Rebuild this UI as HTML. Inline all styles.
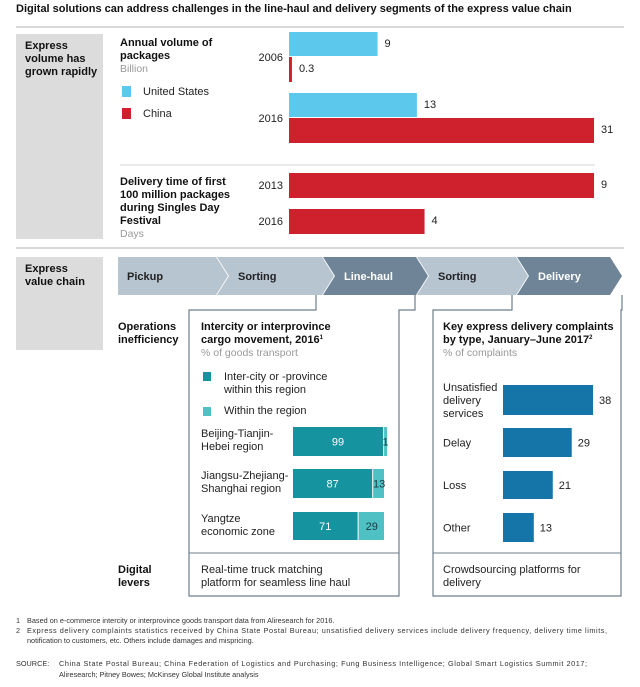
<!DOCTYPE html>
<html><head><meta charset="utf-8"><style>
html,body{margin:0;padding:0;background:#fff;}
svg{display:block;font-family:"Liberation Sans",Arial,sans-serif;}
</style></head><body>
<svg id="c" width="640" height="687" viewBox="0 0 640 687" xmlns="http://www.w3.org/2000/svg">
<text x="16" y="12" font-size="11" font-weight="bold" fill="#111">Digital solutions can address challenges in the line-haul and delivery segments of the express value chain</text>
<line x1="16" y1="27" x2="624" y2="27" stroke="#ccc" stroke-width="1.5"/>
<rect x="16" y="34" width="87" height="205" fill="#dcdcdc"/>
<text font-size="11" font-weight="bold" fill="#111"><tspan x="25" y="49">Express</tspan><tspan x="25" y="62">volume has</tspan><tspan x="25" y="75">grown rapidly</tspan></text>
<text font-size="11" font-weight="bold" fill="#111"><tspan x="120" y="46">Annual volume of</tspan><tspan x="120" y="59">packages</tspan></text>
<text x="120" y="72" font-size="10.5" fill="#999">Billion</text>
<rect x="122" y="86" width="9" height="11" fill="#5bc8ec"/>
<text x="143" y="95" font-size="11" fill="#222">United States</text>
<rect x="122" y="108" width="9" height="11" fill="#cf202d"/>
<text x="143" y="117" font-size="11" fill="#222">China</text>
<line x1="120" y1="165" x2="595" y2="165" stroke="#ddd" stroke-width="1.2"/>
<text font-size="11" font-weight="bold" fill="#111"><tspan x="120" y="185">Delivery time of first</tspan><tspan x="120" y="198">100 million packages</tspan><tspan x="120" y="211">during Singles Day</tspan><tspan x="120" y="224">Festival</tspan></text>
<text x="120" y="237" font-size="10.5" fill="#999">Days</text>
<line x1="16" y1="248" x2="624" y2="248" stroke="#ccc" stroke-width="1.5"/>
<rect x="16" y="257" width="87" height="93" fill="#dcdcdc"/>
<text font-size="11" font-weight="bold" fill="#111"><tspan x="25" y="272">Express</tspan><tspan x="25" y="285">value chain</tspan></text>
<g id="chev"></g>
<polyline points="316,295 316,310 189,310 189,596 399,596 399,310 415,310 415,295" fill="none" stroke="#6f7f8c" stroke-width="1.2"/>
<polyline points="512,295 512,310 433,310 433,596 621,596 621,310 622,310 622,295" fill="none" stroke="#6f7f8c" stroke-width="1.2"/>
<line x1="189" y1="553" x2="399" y2="553" stroke="#6f7f8c" stroke-width="1"/>
<line x1="433" y1="553" x2="621" y2="553" stroke="#6f7f8c" stroke-width="1"/>
<text font-size="11" font-weight="bold" fill="#111"><tspan x="118" y="330">Operations</tspan><tspan x="118" y="343">inefficiency</tspan></text>
<text font-size="11" font-weight="bold" fill="#111"><tspan x="201" y="330">Intercity or interprovince</tspan><tspan x="201" y="343">cargo movement, 2016<tspan font-size="6" dy="-4">1</tspan></tspan></text>
<text x="201" y="356" font-size="10.5" fill="#999">% of goods transport</text>
<rect x="203" y="372" width="8" height="9" fill="#15939e"/>
<text font-size="11" fill="#222"><tspan x="224" y="380">Inter-city or -province</tspan><tspan x="224" y="393">within this region</tspan></text>
<rect x="203" y="407" width="8" height="9" fill="#4fc0c4"/>
<text x="224" y="414" font-size="11" fill="#222">Within the region</text>
<text font-size="11" font-weight="bold" fill="#111"><tspan x="443" y="330">Key express delivery complaints</tspan><tspan x="443" y="343">by type, January–June 2017<tspan font-size="6" dy="-4">2</tspan></tspan></text>
<text x="443" y="356" font-size="10.5" fill="#999">% of complaints</text>
<text font-size="11" font-weight="bold" fill="#111"><tspan x="118" y="573">Digital</tspan><tspan x="118" y="586">levers</tspan></text>
<text font-size="11" fill="#222"><tspan x="201" y="573">Real-time truck matching</tspan><tspan x="201" y="586">platform for seamless line haul</tspan></text>
<text font-size="11" fill="#222"><tspan x="443" y="573">Crowdsourcing platforms for</tspan><tspan x="443" y="586">delivery</tspan></text>
<g font-size="7.3" fill="#333">
<text x="16" y="623">1</text><text x="27" y="623">Based on e-commerce intercity or interprovince goods transport data from Aliresearch for 2016.</text>
<text x="16" y="633">2</text><text x="27" y="633" textLength="580">Express delivery complaints statistics received by China State Postal Bureau; unsatisfied delivery services include delivery frequency, delivery time limits,</text>
<text x="27" y="643">notification to customers, etc. Others include damages and mispricing.</text>
<text x="16" y="666">SOURCE:</text><text x="59" y="666" textLength="528">China State Postal Bureau; China Federation of Logistics and Purchasing; Fung Business Intelligence; Global Smart Logistics Summit 2017;</text>
<text x="59" y="677">Aliresearch; Pitney Bowes; McKinsey Global Institute analysis</text>
</g>
<g id="marks"></g>
</svg>
<script>
const NS="http://www.w3.org/2000/svg";
const volYears=["2006","2016"];
const volUS=[9,13];
const volChina=[0.3,31];
const delYears=["2013","2016"];
const delDays=[9,4];
const chainSteps=["Pickup","Sorting","Line-haul","Sorting","Delivery"];
const chainDark=[false,false,true,false,true];
const regions=[["Beijing-Tianjin-","Hebei region"],["Jiangsu-Zhejiang-","Shanghai region"],["Yangtze","economic zone"]];
const interShare=[99,87,71];
const withinShare=[1,13,29];
const complaintTypes=[["Unsatisfied","delivery","services"],["Delay"],["Loss"],["Other"]];
const complaintPct=[38,29,21,13];

const g=document.getElementById('marks');
function mk(tag,a,parent){const e=document.createElementNS(NS,tag);for(const k in a)e.setAttribute(k,a[k]);(parent||g).appendChild(e);return e;}
function txt(x,y,s,a){const e=mk('text',Object.assign({x:x,y:y,'font-size':11,fill:'#222'},a||{}));e.textContent=s;return e;}

// volume chart
const x0=289, xVol=v=>v*(305/31);
volYears.forEach((yr,i)=>{
  const yUS=i===0?32:93, yCN=i===0?57:118;
  let r=mk('rect',{x:x0,y:yUS,width:xVol(volUS[i]),height:24,fill:'#5bc8ec'});
  
  let t=txt(x0+xVol(volUS[i])+7,yUS+15,String(volUS[i]));
  
  r=mk('rect',{x:x0,y:yCN,width:Math.max(1.5,xVol(volChina[i])),height:25,fill:'#cf202d'});
  
  t=txt(x0+Math.max(1.5,xVol(volChina[i]))+7,yCN+15,String(volChina[i]));
  
  t=txt(x0-6,yCN+4,yr,{'text-anchor':'end'});
  
});
// delivery days
const xDel=v=>v*(305/9);
delYears.forEach((yr,i)=>{
  const y=i===0?173:209;
  const r=mk('rect',{x:x0,y:y,width:xDel(delDays[i]),height:25,fill:'#cf202d'});
  
  let t=txt(x0+xDel(delDays[i])+7,y+15,String(delDays[i]));
  
  t=txt(x0-6,y+16,yr,{'text-anchor':'end'});
  
});
// chevrons
const cg=document.getElementById('chev');
const bounds=[118,216,322,416,516,610];
chainSteps.forEach((s,i)=>{
  const a=bounds[i],b=bounds[i+1],tip=12;
  const pts=i===0?`${a},257 ${b},257 ${b+tip},276 ${b},295 ${a},295`:`${a+1},257 ${b},257 ${b+tip},276 ${b},295 ${a+1},295 ${a+tip+1},276`;
  const p=mk('polygon',{points:pts,fill:chainDark[i]?'#6f8597':'#b7c5d1'},cg);
  
  const t=txt(i===0?a+9:a+tip+10,280,s,{'font-weight':'bold',fill:chainDark[i]?'#fff':'#222'});
  
});
// stacked cargo
const sx0=293, sx=v=>v*0.91;
const rowY=[427,469,512], rowH=[29,29,28];
regions.forEach((lab,i)=>{
  const y=rowY[i];
  let r=mk('rect',{x:sx0,y:y,width:sx(interShare[i]),height:rowH[i],fill:'#15939e'});
  
  r=mk('rect',{x:sx0+sx(interShare[i])+1,y:y,width:Math.max(3,sx(withinShare[i])-1),height:rowH[i],fill:'#4fc0c4'});
  
  let t=txt(sx0+sx(interShare[i])/2,y+rowH[i]/2+4,String(interShare[i]),{'text-anchor':'middle',fill:'#fff'});
  
  t=txt(sx0+sx(interShare[i])+Math.max(3,sx(withinShare[i]))/2+1,y+rowH[i]/2+4,String(withinShare[i]),{'text-anchor':'middle',fill:'#1a3a40'});
  
  t=mk('text',{'font-size':11,fill:'#222'});
  
  lab.forEach((l,j)=>{const ts=mk('tspan',{x:201,y:y+10+j*13},t);ts.textContent=l;});
});
// complaints
const cx0=503, cxs=v=>v*2.37;
const cY=[385,428,471,513], cH=[30,29,28,29];
complaintTypes.forEach((lab,i)=>{
  const y=cY[i];
  const r=mk('rect',{x:cx0,y:y,width:cxs(complaintPct[i]),height:cH[i],fill:'#1574a8'});
  
  let t=txt(cx0+cxs(complaintPct[i])+6,y+cH[i]/2+4,String(complaintPct[i]));
  
  t=mk('text',{'font-size':11,fill:'#222'});
  
  const n=lab.length, start=y+cH[i]/2+4-(n-1)*6.5;
  lab.forEach((l,j)=>{const ts=mk('tspan',{x:443,y:start+j*13},t);ts.textContent=l;});
});
</script>
</body></html>
